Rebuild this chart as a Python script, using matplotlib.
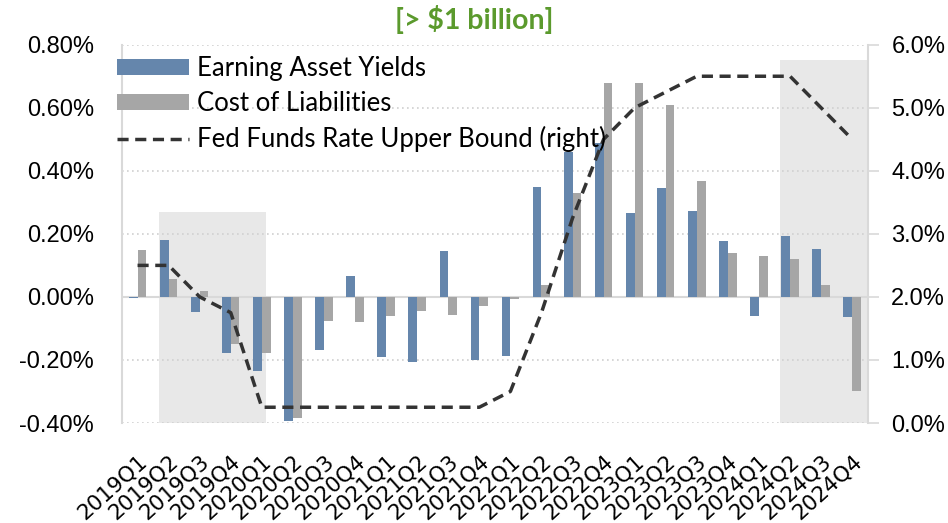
"""Earning asset yields vs cost of liabilities, banks > $1 billion."""

import matplotlib
matplotlib.use('Agg')
import matplotlib.pyplot as plt
from matplotlib.ticker import FuncFormatter, MultipleLocator

quarters = ['2019Q1', '2019Q2', '2019Q3', '2019Q4',
            '2020Q1', '2020Q2', '2020Q3', '2020Q4',
            '2021Q1', '2021Q2', '2021Q3', '2021Q4',
            '2022Q1', '2022Q2', '2022Q3', '2022Q4',
            '2023Q1', '2023Q2', '2023Q3', '2023Q4',
            '2024Q1', '2024Q2', '2024Q3', '2024Q4']

# change in percentage points (left axis, %)
earning_asset_yields = [-0.003, 0.182, -0.047, -0.179,
                        -0.234, -0.393, -0.169, 0.065,
                        -0.190, -0.206, 0.145, -0.200,
                        -0.187, 0.348, 0.459, 0.487,
                        0.267, 0.346, 0.274, 0.178,
                        -0.060, 0.192, 0.153, -0.065]
cost_of_liabilities = [0.148, 0.058, 0.018, -0.150,
                       -0.179, -0.385, -0.076, -0.080,
                       -0.060, -0.045, -0.056, -0.030,
                       -0.006, 0.039, 0.329, 0.678,
                       0.678, 0.609, 0.369, 0.138,
                       0.129, 0.119, 0.039, -0.298]
# right axis, %
fed_funds_upper = [2.50, 2.50, 2.00, 1.75,
                   0.25, 0.25, 0.25, 0.25,
                   0.25, 0.25, 0.25, 0.25,
                   0.50, 1.75, 3.25, 4.50,
                   5.00, 5.25, 5.50, 5.50,
                   5.50, 5.50, 5.00, 4.50]

# shaded periods: (first quarter, last quarter, top on left axis)
shaded = [('2019Q2', '2020Q1', 0.268), ('2024Q2', '2024Q4', 0.75)]

BLUE = '#6586ac'
GRAY = '#a6a6a6'
GRID = '#d0d0d0'
SPINE = '#d9d9d9'

plt.rcParams['font.family'] = ['DejaVu Sans']

fig = plt.figure(figsize=(9.48, 5.23), dpi=100)
ax = fig.add_axes([0.1287, 0.1912, 0.7866, 0.7233])
ax2 = ax.twinx()

x = list(range(len(quarters)))
w = 0.28

for start, end, top in shaded:
    x0 = quarters.index(start) - 0.31
    x1 = quarters.index(end) + (0.12 if end != quarters[-1] else 0.5)
    ax.fill_between([x0, x1], -0.40, top, color='#e8e8e8', lw=0, zorder=0)

ax.axhline(0, color=SPINE, lw=1.5, zorder=1)
b1 = ax.bar([i - w / 2 for i in x], earning_asset_yields, w, color=BLUE,
            label='Earning Asset Yields', zorder=2)
b2 = ax.bar([i + w / 2 for i in x], cost_of_liabilities, w, color=GRAY,
            label='Cost of Liabilities', zorder=2)
ln, = ax2.plot(x, fed_funds_upper, '--', color='#333333', lw=2.5,
               dashes=(3.2, 1.9), label='Fed Funds Rate Upper Bound (right)')

ax.set_xlim(-0.5, len(quarters) - 0.5)
ax.set_ylim(-0.40, 0.80)
ax2.set_ylim(0, 6.0)
ax.yaxis.set_major_locator(MultipleLocator(0.2))
ax2.yaxis.set_major_locator(MultipleLocator(1.0))
ax.yaxis.set_major_formatter(FuncFormatter(lambda v, p: f'{v:.2f}%'))
ax2.yaxis.set_major_formatter(FuncFormatter(lambda v, p: f'{v:.1f}%'))
ax.yaxis.grid(True, color=GRID, ls=(0, (1, 2)), lw=1.2)
ax.set_axisbelow(True)

for a in (ax, ax2):
    for s in a.spines.values():
        s.set_visible(False)
ax.spines['left'].set_visible(True)
ax.spines['left'].set_color(SPINE)
ax.spines['left'].set_linewidth(1.5)
ax2.spines['right'].set_visible(True)
ax2.spines['right'].set_color(SPINE)
ax2.spines['right'].set_linewidth(1.5)

tick_font = 'Liberation Sans'
ax.tick_params(axis='y', length=0, labelsize=17, pad=20)
ax2.tick_params(axis='y', length=8, color=SPINE, width=1.2, labelsize=17, pad=9)
for lab in ax.get_yticklabels() + ax2.get_yticklabels():
    lab.set_family(tick_font)
ax.set_xticks(x)
ax.set_xticklabels(quarters, rotation=42, ha='right', rotation_mode='anchor')
ax.tick_params(axis='x', length=0, labelsize=15.5, pad=20)

fig.legend([b1, b2, ln], [b1.get_label(), b2.get_label(), ln.get_label()],
           loc='upper left', bbox_to_anchor=(0.1125, 0.913), frameon=False,
           prop={'family': 'Lato', 'size': 18.5}, handlelength=2.8,
           handleheight=0.6, labelspacing=0.4, handletextpad=0.3,
           borderaxespad=0)

fig.text(0.5, 0.963, '[> $1 billion]', ha='center', va='center',
         color='#5b9a2d', fontsize=20.5, fontweight='bold', family='Lato')

fig.savefig('out.png', dpi=100)
